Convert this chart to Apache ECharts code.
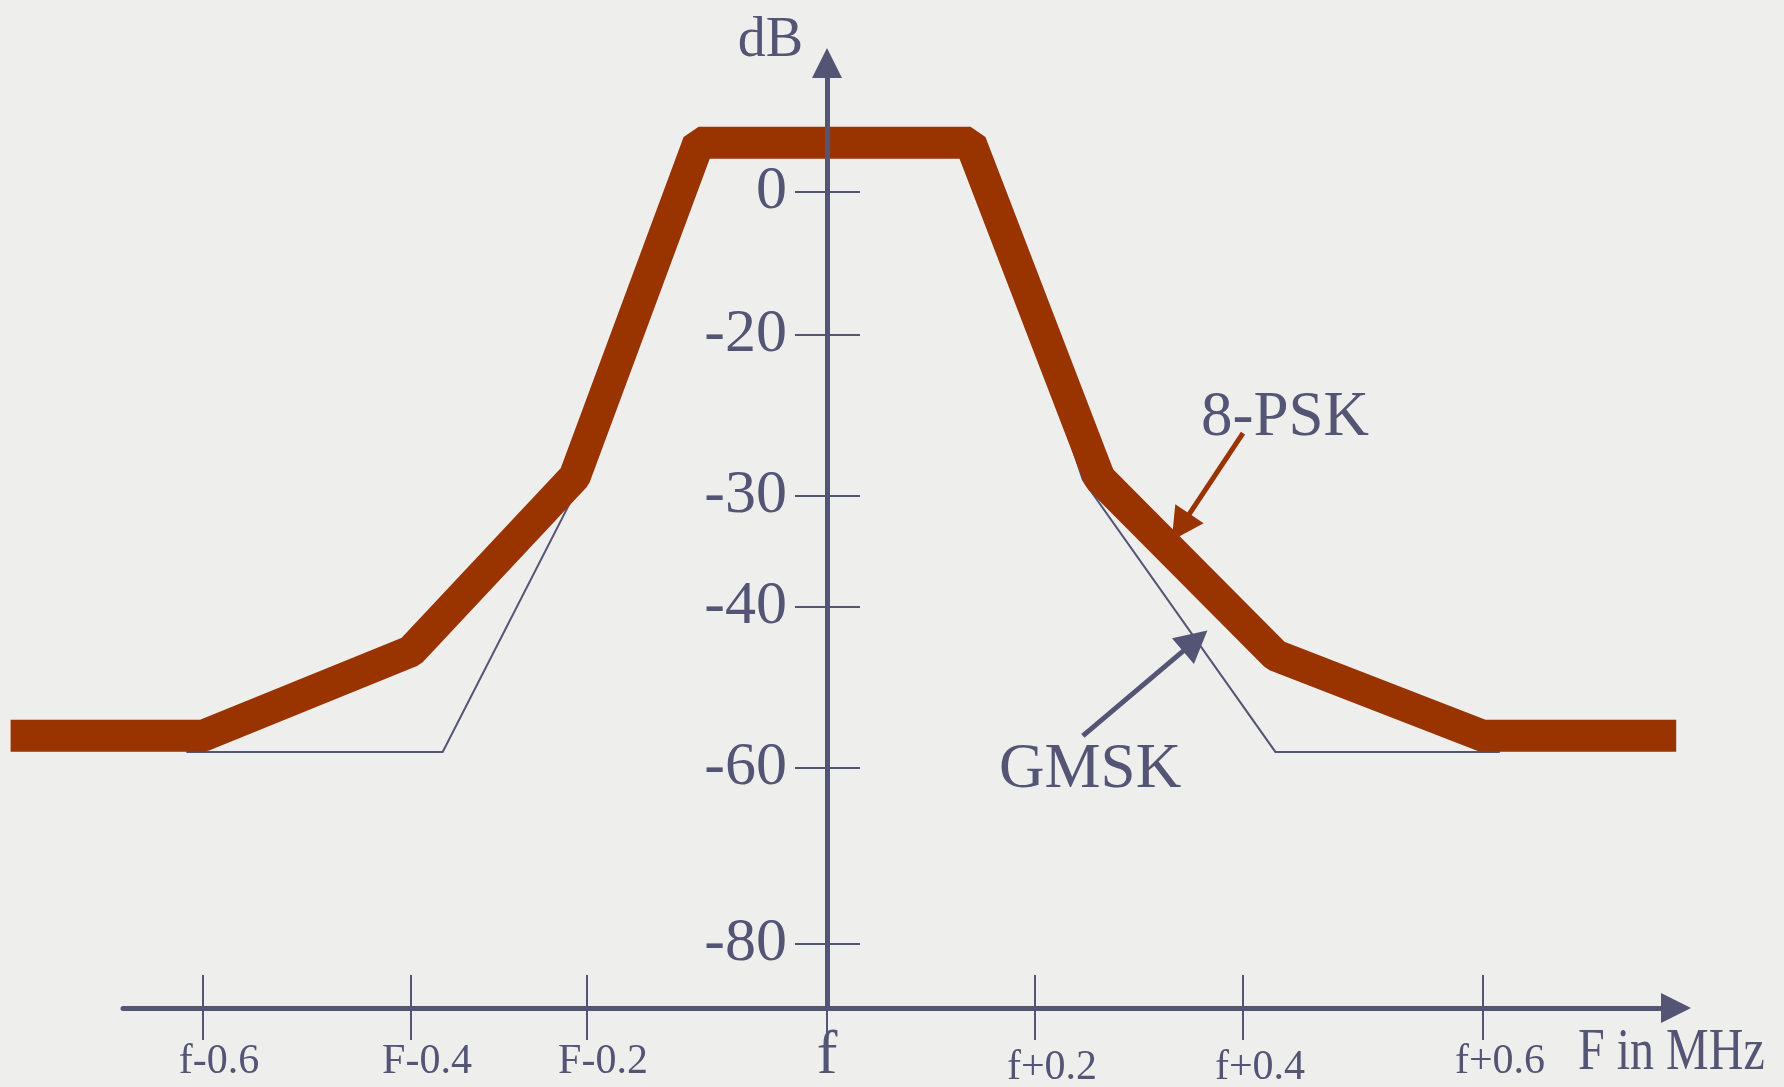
<!DOCTYPE html>
<html>
<head>
<meta charset="utf-8">
<script src="https://cdn.jsdelivr.net/npm/echarts@6.0.0/dist/echarts.min.js"></script>
<style>
  html, body { margin: 0; padding: 0; background: #eeeeed; }
  #chart { width: 1784px; height: 1087px; }
</style>
</head>
<body>
<div id="chart"></div>
<script>
// ticks of the frequency axis (MHz offset from f) and their labels
const xTickValues = [-0.6, -0.4, -0.2, 0, 0.2, 0.4, 0.6];
const xTickLabels = ['f-0.6', 'F-0.4', 'F-0.2', 'f', 'f+0.2', 'f+0.4', 'f+0.6'];
// ticks of the level axis (dB)
const yTickValues = [-80, -60, -40, -30, -20, 0];

// 8-PSK spectrum mask
const pskFreq = [-0.785, -0.6, -0.4, -0.214, -0.107, 0.138, 0.262, 0.427, 0.6, 0.761];
const pskDb = [-56, -56, -45.5, -28.8, 6.9, 6.9, -28.9, -46, -56, -56];
// GMSK spectrum mask
const gmskFreq = [-0.616, -0.364, -0.206, -0.107, 0.138, 0.246, 0.427, 0.614];
const gmskDb = [-58, -58, -29, 6.9, 6.9, -29, -58, -58];

// annotations: text position and pointer arrows (MHz, dB)
const noteNames = ['8-PSK', 'GMSK'];
const noteFreq = [0.435, 0.253];
const noteDb = [-25.2, -60.3];
const arrowFrom = [[0.4, -26.1], [0.246, -56.0]];
const arrowTo = [[0.34, -32.8], [0.354, -44.2]];

// the hand-drawn axes are not evenly spaced: where each tick sits along its axis
const xTickAt = [-624, -416, -240, 0, 208, 416, 656];
const yTickAt = [64, 240, 401, 512, 673, 816];

const INK = '#545475';
const RUST = '#993300';
const SERIF = '"Liberation Serif", "DejaVu Serif", serif';

// piecewise linear scale through the tick positions (extends the end segments)
function warp(v, vals, at) {
    let i = 0;
    while (i < vals.length - 2 && v > vals[i + 1]) i++;
    return at[i] + (v - vals[i]) * (at[i + 1] - at[i]) / (vals[i + 1] - vals[i]);
}
const sx = v => warp(v, xTickValues, xTickAt);
const sy = v => warp(v, yTickValues, yTickAt);
const pts = (fs, ds) => fs.map((f, i) => [sx(f), sy(ds[i])]);

const xLabelStyle = ['m', 'm', 'm', 'c', 'p', 'p', 'q'];
const hidden = { show: false };

let myChart = echarts.init(document.getElementById('chart'));
let option = {
    backgroundColor: '#eeeeed',
    animation: false,
    grid: [
        // axes frame
        { left: 123, right: 108, top: 63, bottom: 79, outerBoundsMode: 'none' },
        // plotting area, same units, whole canvas so nothing gets clipped
        { left: 0, right: 0, top: 0, bottom: 0, outerBoundsMode: 'none' }
    ],
    xAxis: [
        {
            type: 'value',
            gridIndex: 0,
            position: 'bottom',
            min: -704,
            max: 849,
            z: 5,
            axisLine: {
                onZero: false,
                symbol: ['none', 'triangle'],
                symbolSize: [30, 30],
                lineStyle: { color: INK, width: 5 }
            },
            axisTick: {
                customValues: xTickAt,
                length: 32,
                lineStyle: { color: INK, width: 2 }
            },
            axisLabel: {
                customValues: xTickAt,
                margin: 28,
                formatter: v => {
                    const i = xTickAt.indexOf(v);
                    return '{' + xLabelStyle[i] + '|' + xTickLabels[i] + '}';
                },
                rich: {
                    m: { fontFamily: SERIF, color: INK, fontSize: 42, lineHeight: 42, padding: [10, 0, 0, 32] },
                    c: { fontFamily: SERIF, color: INK, fontSize: 62, lineHeight: 42 },
                    p: { fontFamily: SERIF, color: INK, fontSize: 42, lineHeight: 42, padding: [22, 0, 0, 34] },
                    q: { fontFamily: SERIF, color: INK, fontSize: 42, lineHeight: 42, padding: [10, 0, 0, 34] }
                }
            },
            splitLine: hidden
        },
        {
            // upper half of the crossing ticks
            type: 'value',
            gridIndex: 0,
            position: 'bottom',
            min: -704,
            max: 849,
            z: 5,
            axisLine: { onZero: false, lineStyle: { opacity: 0 } },
            axisTick: {
                customValues: xTickAt,
                inside: true,
                length: 33,
                lineStyle: { color: INK, width: 2, opacity: 1 }
            },
            axisLabel: hidden,
            splitLine: hidden
        },
        {
            type: 'value',
            gridIndex: 1,
            min: -827,
            max: 957,
            show: false
        }
    ],
    yAxis: [
        {
            type: 'value',
            gridIndex: 0,
            position: 'left',
            offset: -704,
            min: 0,
            max: 945,
            z: 5,
            name: 'dB',
            nameLocation: 'end',
            nameGap: -6,
            nameMoveOverlap: false,
            nameTextStyle: {
                fontFamily: SERIF,
                fontSize: 56,
                lineHeight: 56,
                color: INK,
                align: 'right',
                verticalAlign: 'bottom',
                padding: [0, 24, 0, 0]
            },
            axisLine: {
                onZero: false,
                symbol: ['none', 'triangle'],
                symbolSize: [30, 30],
                lineStyle: { color: INK, width: 5 }
            },
            axisTick: {
                customValues: yTickAt,
                length: 32,
                lineStyle: { color: INK, width: 2 }
            },
            axisLabel: {
                customValues: yTickAt,
                margin: 40,
                fontFamily: SERIF,
                fontSize: 62,
                color: INK,
                padding: [6, 0, 0, 0],
                formatter: v => String(yTickValues[yTickAt.indexOf(v)])
            },
            splitLine: hidden
        },
        {
            // right half of the crossing ticks
            type: 'value',
            gridIndex: 0,
            position: 'left',
            offset: -704,
            min: 0,
            max: 945,
            z: 5,
            axisLine: { onZero: false, lineStyle: { opacity: 0 } },
            axisTick: {
                customValues: yTickAt,
                inside: true,
                length: 33,
                lineStyle: { color: INK, width: 2, opacity: 1 }
            },
            axisLabel: hidden,
            splitLine: hidden
        },
        {
            type: 'value',
            gridIndex: 1,
            min: -79,
            max: 1008,
            show: false
        }
    ],
    graphic: [
        {
            type: 'text',
            x: 1578,
            y: 1053,
            scaleX: 0.8,
            style: {
                text: 'F in MHz',
                fontFamily: SERIF,
                fontSize: 60,
                fill: INK,
                align: 'left',
                verticalAlign: 'middle'
            }
        }
    ],
    series: [
        {
            name: 'GMSK',
            type: 'line',
            xAxisIndex: 2,
            yAxisIndex: 2,
            data: pts(gmskFreq, gmskDb),
            showSymbol: false,
            z: 2,
            lineStyle: { color: INK, width: 2, join: 'miter' }
        },
        {
            name: '8-PSK',
            type: 'line',
            xAxisIndex: 2,
            yAxisIndex: 2,
            data: pts(pskFreq, pskDb),
            showSymbol: false,
            z: 3,
            lineStyle: { color: RUST, width: 32, cap: 'butt', join: 'bevel' }
        },
        {
            name: 'notes',
            type: 'scatter',
            xAxisIndex: 2,
            yAxisIndex: 2,
            z: 4,
            silent: true,
            symbol: 'circle',
            symbolSize: 0,
            itemStyle: { color: INK },
            data: noteNames.map((n, i) => ({ name: n, value: [sx(noteFreq[i]), sy(noteDb[i])] })),
            label: {
                show: true,
                position: 'inside',
                formatter: '{b}',
                fontFamily: SERIF,
                fontSize: 63,
                color: INK,
                opacity: 1,
                textBorderWidth: 0
            },
            markLine: {
                silent: true,
                symbol: ['none', 'triangle'],
                symbolSize: [34, 32],
                label: hidden,
                data: arrowFrom.map((a, i) => [
                    {
                        coord: [sx(a[0]), sy(a[1])],
                        lineStyle: { color: i === 0 ? RUST : INK, width: 5, type: 'solid' },
                        itemStyle: { color: i === 0 ? RUST : INK }
                    },
                    { coord: [sx(arrowTo[i][0]), sy(arrowTo[i][1])] }
                ])
            }
        }
    ]
};
myChart.setOption(option);
window.addEventListener('resize', () => {
    myChart.resize();
});
</script>
</body>
</html>
